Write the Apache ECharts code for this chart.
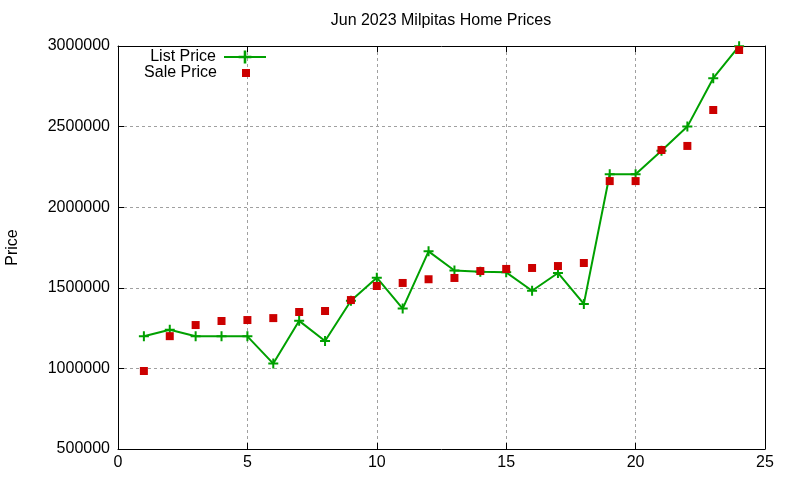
<!DOCTYPE html>
<html>
<head>
<meta charset="utf-8">
<script src="https://cdn.jsdelivr.net/npm/echarts@6/dist/echarts.min.js"></script>
<style>
  html, body { margin: 0; padding: 0; background: #fff; }
  #chart { width: 800px; height: 480px; }
</style>
</head>
<body>
<div id="chart"></div>
<script>
// values
var days = [1, 2, 3, 4, 5, 6, 7, 8, 9, 10, 11, 12, 13, 14, 15, 16, 17, 18, 19, 20, 21, 22, 23, 24];
var listPrice = [1199000, 1240000, 1199000, 1199000, 1199000, 1030000, 1295000, 1170000, 1420000, 1563000, 1371000, 1726000,
                 1607000, 1600000, 1596000, 1482000, 1592000, 1400000, 2204000, 2204000, 2350000, 2500000, 2800000, 2999000];
var salePrice = [984000, 1200000, 1269000, 1294000, 1300000, 1312000, 1350000, 1356000, 1424000, 1511000, 1530000, 1553000,
                 1561000, 1604000, 1617000, 1623000, 1635000, 1654000, 2162000, 2162000, 2355000, 2380000, 2603000, 2975000];
var xTicks = [0, 5, 10, 15, 20, 25];
var yTicks = [500000, 1000000, 1500000, 2000000, 2500000, 3000000];

var font = 'Liberation Sans, Arial, sans-serif';
var green = '#00a000';
var red = '#cc0000';

var listData = [], saleData = [];
for (var i = 0; i < days.length; i++) {
  listData.push([days[i], listPrice[i]]);
  saleData.push([days[i], salePrice[i]]);
}

var gridLine = { show: true, lineStyle: { color: '#a0a0a0', width: 1, type: [3, 3] } };
var boxLine = { show: true, onZero: false, lineStyle: { color: '#000', width: 1 } };
var tickIn = { show: true, inside: true, length: 6, lineStyle: { color: '#000' } };

var myChart = echarts.init(document.getElementById('chart'));
var option = {
  animation: false,
  backgroundColor: '#fff',
  textStyle: { fontFamily: font },
  title: {
    text: 'Jun 2023 Milpitas Home Prices',
    left: 441, top: 13, padding: 0,
    textAlign: 'center',
    textStyle: { fontFamily: font, fontSize: 16, fontWeight: 'normal', color: '#000' }
  },
  grid: { left: 118, right: 35, top: 46, bottom: 31, outerBoundsMode: 'none', containLabel: false },
  legend: [{
    data: ['List Price'],
    align: 'right',
    orient: 'vertical',
    padding: 0,
    right: 533, top: 49,
    itemWidth: 42, itemHeight: 16,
    itemStyle: { borderWidth: 0 },
    textStyle: { fontFamily: font, fontSize: 16, color: '#000', padding: [0, 3, 0, 0] }
  }, {
    data: ['Sale Price'],
    align: 'right',
    orient: 'vertical',
    padding: 0,
    right: 550, top: 65,
    itemWidth: 8, itemHeight: 8,
    textStyle: { fontFamily: font, fontSize: 16, color: '#000', padding: [0, 20, 0, 0] }
  }],
  xAxis: [{
    type: 'value', min: xTicks[0], max: xTicks[xTicks.length - 1], interval: 5,
    axisLine: boxLine, axisTick: tickIn, splitLine: gridLine,
    axisLabel: { fontFamily: font, fontSize: 16, color: '#000', margin: 6 }
  }, {
    type: 'value', position: 'top', min: xTicks[0], max: xTicks[xTicks.length - 1], interval: 5,
    axisLine: boxLine, axisTick: tickIn, splitLine: { show: false }, axisLabel: { show: false }
  }],
  yAxis: [{
    type: 'value', min: yTicks[0], max: yTicks[yTicks.length - 1], interval: 500000,
    name: 'Price', nameLocation: 'middle', nameRotate: 90, nameGap: 97,
    nameTextStyle: { fontFamily: font, fontSize: 16, color: '#000' },
    axisLine: boxLine, axisTick: tickIn, splitLine: gridLine,
    axisLabel: {
      fontFamily: font, fontSize: 16, color: '#000', margin: 8,
      formatter: function (v) { return String(v); }
    }
  }, {
    type: 'value', position: 'right', min: yTicks[0], max: yTicks[yTicks.length - 1], interval: 500000,
    axisLine: boxLine, axisTick: tickIn, splitLine: { show: false }, axisLabel: { show: false }
  }],
  series: [{
    name: 'List Price',
    type: 'line',
    data: listData,
    symbol: 'path://M4,0H6V4H10V6H6V10H4V6H0V4H4Z',
    symbolSize: 10,
    showAllSymbol: true,
    itemStyle: { color: green },
    lineStyle: { color: green, width: 2 },
    z: 3
  }, {
    name: 'Sale Price',
    type: 'scatter',
    data: saleData,
    symbol: 'rect',
    symbolSize: 8,
    itemStyle: { color: red, opacity: 1 },
    z: 4
  }]
};
myChart.setOption(option);
</script>
</body>
</html>
